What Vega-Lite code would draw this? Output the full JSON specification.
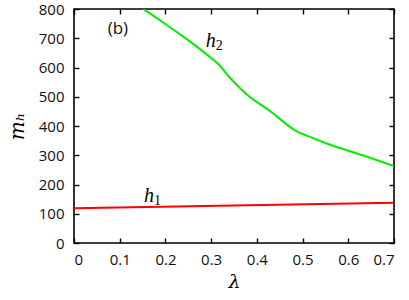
{
  "$schema": "https://vega.github.io/schema/vega-lite/v6.json",
  "width": 320,
  "height": 234,
  "autosize": "none",
  "padding": {"left": 74, "top": 9, "right": 15, "bottom": 57},
  "background": "white",
  "config": {
    "view": {"stroke": "black", "strokeWidth": 1.6},
    "axis": {
      "grid": false,
      "domain": false,
      "tickColor": "black",
      "tickWidth": 1.4,
      "tickSize": 5,
      "offset": -5,
      "labelFont": "Open Sans",
      "labelFontSize": 15,
      "labelColor": "#111111",
      "titleFont": "DejaVu Serif",
      "titleFontStyle": "italic",
      "titleFontWeight": "normal",
      "titleColor": "black"
    }
  },
  "datasets": {
    "h2": [
      {"x": 0.1516, "y": 800},
      {"x": 0.195, "y": 754},
      {"x": 0.2465, "y": 697},
      {"x": 0.294, "y": 640},
      {"x": 0.316, "y": 611},
      {"x": 0.341, "y": 565},
      {"x": 0.378, "y": 508},
      {"x": 0.429, "y": 451},
      {"x": 0.487, "y": 382},
      {"x": 0.509, "y": 367},
      {"x": 0.56, "y": 336},
      {"x": 0.633, "y": 299},
      {"x": 0.7, "y": 263}
    ],
    "h1": [
      {"x": 0, "y": 119},
      {"x": 0.35, "y": 128},
      {"x": 0.7, "y": 138}
    ],
    "labels": [
      {"x": 0.096, "y": 733, "t": "(b)"}
    ],
    "hlabels": [
      {"x": 0.31, "y": 690, "t": "h", "s": "2"},
      {"x": 0.175, "y": 162, "t": "h", "s": "1"}
    ]
  },
  "layer": [
    {
      "data": {"name": "h1"},
      "mark": {"type": "line", "color": "#ff0000", "strokeWidth": 2, "clip": true},
      "encoding": {
        "x": {"field": "x", "type": "quantitative", "scale": {"domain": [0, 0.7], "nice": false},
          "axis": {"values": [0, 0.1, 0.2, 0.3, 0.4, 0.5, 0.6, 0.7], "format": "~g", "title": "λ", "titleFontSize": 19, "titlePadding": 5, "labelPadding": 9}},
        "y": {"field": "y", "type": "quantitative", "scale": {"domain": [0, 800], "nice": false},
          "axis": {"values": [0, 100, 200, 300, 400, 500, 600, 700, 800], "title": "mₕ", "titleFontSize": 20, "titlePadding": 11, "labelPadding": 10}}
      }
    },
    {
      "data": {"name": "h2"},
      "mark": {"type": "line", "color": "#00ee00", "strokeWidth": 2, "interpolate": "monotone", "clip": true},
      "encoding": {
        "x": {"field": "x", "type": "quantitative",
          "axis": {"orient": "top", "values": [0, 0.1, 0.2, 0.3, 0.4, 0.5, 0.6, 0.7], "labels": false, "title": null}},
        "y": {"field": "y", "type": "quantitative",
          "axis": {"orient": "right", "values": [0, 100, 200, 300, 400, 500, 600, 700, 800], "labels": false, "title": null}}
      }
    },
    {
      "data": {"name": "labels"},
      "mark": {"type": "text", "font": "Open Sans", "fontSize": 17, "color": "#111111"},
      "encoding": {
        "x": {"field": "x", "type": "quantitative", "axis": null},
        "y": {"field": "y", "type": "quantitative", "axis": null},
        "text": {"field": "t"}
      }
    },
    {
      "data": {"name": "hlabels"},
      "mark": {"type": "text", "font": "Liberation Serif", "fontStyle": "italic", "fontSize": 20, "color": "black", "align": "right"},
      "encoding": {
        "x": {"field": "x", "type": "quantitative", "axis": null},
        "y": {"field": "y", "type": "quantitative", "axis": null},
        "text": {"field": "t"}
      }
    },
    {
      "data": {"name": "hlabels"},
      "mark": {"type": "text", "font": "Liberation Serif", "fontSize": 14, "color": "black", "align": "left", "dx": 0, "dy": 5},
      "encoding": {
        "x": {"field": "x", "type": "quantitative", "axis": null},
        "y": {"field": "y", "type": "quantitative", "axis": null},
        "text": {"field": "s"}
      }
    }
  ],
  "resolve": {"axis": {"x": "independent", "y": "independent"}}
}
